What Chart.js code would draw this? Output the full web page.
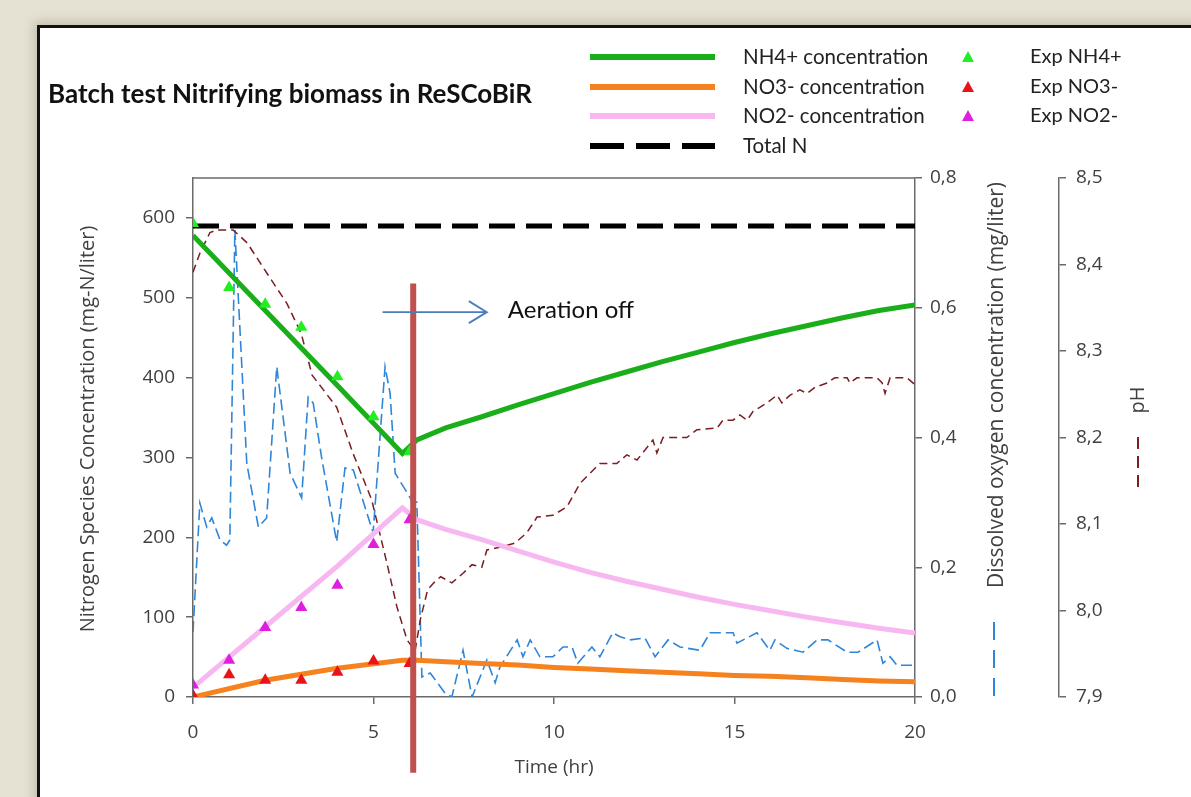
<!DOCTYPE html>
<html>
<head>
    <title>Batch test Nitrifying biomass in ReSCoBiR</title>
    <style>
        body {
            margin: 0;
            width: 1191px;
            height: 797px;
            overflow: hidden;
            background: #e5e2d3;
        }

        #frame {
            position: absolute;
            left: 37px;
            top: 25px;
            width: 1200px;
            height: 800px;
            background: #fff;
            border: 3px solid #111;
            box-shadow: -3px -3px 10px rgba(90, 80, 50, 0.25);
        }

        #chart {
            position: absolute;
            left: 0;
            top: 0;
        }
    </style>
</head>
<body>
    <div id="frame"></div>
    <canvas id="chart" width="1191" height="797"></canvas>

    <script src="https://cdn.jsdelivr.net/npm/chart.js"></script>
    <script>
        // model curves (mg-N/liter)
        const modelTime = [0, 2, 4, 5.8, 6.2, 7, 8, 9, 10, 11, 12, 13, 14, 15, 16, 17, 18, 19, 20];
        const nh4Model = [578, 484, 390, 305, 322, 337, 351, 366, 380, 394, 407, 420, 432, 444, 455, 465, 475, 484, 491];
        const no3Model = [0, 21, 36, 46, 46, 44, 42, 40, 37, 35, 33, 31, 29, 27, 26, 24, 22, 20, 19];
        const no2Model = [12, 88, 164, 237, 222, 210, 197, 183, 169, 156, 145, 135, 125, 116, 108, 100, 93, 86, 80];
        const totalNTime = [0, 20];
        const totalN = [590, 590];

        // experimental points
        const expTime = [0, 1, 2, 3, 4, 5, 6];
        const expNH4 = [593, 513, 492, 463, 401, 351, 307];
        const expNO3 = [2, 28, 21, 21, 31, 45, 42];
        const expNO2 = [15, 46, 87, 112, 140, 191, 222];

        // dissolved oxygen (mg/liter)
        const doTime = [0, 0.19, 0.38, 0.52, 0.75, 0.93, 1.02, 1.16, 1.49, 1.81, 2.04, 2.32, 2.69, 3.01, 3.19, 3.33, 3.56, 3.98,
            4.21, 4.44, 4.99, 5.32, 5.46, 5.6, 6.05, 6.2, 6.34, 6.57, 6.98, 7.17, 7.48, 7.73, 8.14, 8.37, 8.5, 8.98, 9.14, 9.34,
            9.61, 9.97, 10.25, 10.5, 10.66, 11.05, 11.27, 11.63, 11.83, 12.1, 12.52, 12.8, 13.16, 13.49, 14.04, 14.32, 14.68,
            14.96, 15.07, 15.62, 15.98, 16.12, 16.45, 16.9, 17.29, 17.59, 18.12, 18.42, 18.95, 19.11, 19.31, 19.5, 19.94, 20];
        const doValue = [0.1, 0.299, 0.262, 0.276, 0.242, 0.234, 0.242, 0.72, 0.36, 0.262, 0.276, 0.509, 0.345, 0.307, 0.462,
            0.453, 0.37, 0.239, 0.353, 0.35, 0.253, 0.509, 0.468, 0.345, 0.304, 0.3, 0.031, 0.037, 0.006, 0, 0.072, 0, 0.057,
            0.022, 0.046, 0.088, 0.062, 0.088, 0.062, 0.062, 0.077, 0.077, 0.052, 0.077, 0.062, 0.099, 0.093, 0.088, 0.091,
            0.062, 0.088, 0.077, 0.072, 0.099, 0.099, 0.099, 0.083, 0.099, 0.072, 0.088, 0.075, 0.069, 0.088, 0.088, 0.069,
            0.069, 0.088, 0.052, 0.062, 0.049, 0.049, 0.049];

        // pH
        const phTime = [0, 0.19, 0.47, 0.66, 1.11, 1.5, 1.86, 2.22, 2.6, 3.0, 3.3, 3.98, 4.43, 4.95, 5.37, 5.65, 5.93, 6.15,
            6.3, 6.5, 6.67, 6.86, 7.17, 7.48, 7.73, 8.0, 8.14, 8.5, 8.92, 9.25, 9.53, 9.97, 10.36, 10.72, 11.27, 11.74, 12.02,
            12.3, 12.74, 12.85, 13.02, 13.68, 13.96, 14.52, 14.68, 14.96, 15.15, 15.35, 15.51, 15.71, 15.9, 16.18, 16.31,
            16.54, 16.81, 17.01, 17.23, 17.56, 17.78, 18.12, 18.2, 18.39, 18.95, 19.09, 19.17, 19.31, 19.78, 20];
        const phValue = [8.391, 8.413, 8.437, 8.44, 8.44, 8.425, 8.402, 8.379, 8.355, 8.32, 8.272, 8.235, 8.182, 8.128,
            8.055, 8.004, 7.966, 7.953, 7.99, 8.024, 8.032, 8.039, 8.032, 8.043, 8.053, 8.05, 8.07, 8.073, 8.078, 8.09, 8.108,
            8.11, 8.12, 8.147, 8.17, 8.17, 8.18, 8.174, 8.197, 8.182, 8.2, 8.2, 8.209, 8.211, 8.22, 8.22, 8.226, 8.22, 8.23,
            8.235, 8.24, 8.249, 8.24, 8.249, 8.255, 8.251, 8.258, 8.263, 8.269, 8.269, 8.263, 8.269, 8.269, 8.263, 8.251,
            8.269, 8.269, 8.261];

        // aeration switched off
        const aerationOffTime = 6.1;

        const GREEN = '#1aaf1a';
        const ORANGE = '#f5821f';
        const PINK = '#f7b8f2';
        const BLUE = '#2f86d8';
        const BROWN = '#7a1e22';
        const AXIS = '#6a6a6a';
        const TEXT = '#404040';

        function points(xs, ys) {
            return xs.map((x, i) => ({ x: x, y: ys[i] }));
        }

        function commaTick(value) {
            return value.toFixed(1).replace('.', ',');
        }

        function triangle(ctx, x, y, color) {
            ctx.beginPath();
            ctx.moveTo(x, y - 6);
            ctx.lineTo(x + 6, y + 5);
            ctx.lineTo(x - 6, y + 5);
            ctx.closePath();
            ctx.fillStyle = color;
            ctx.fill();
        }

        const extras = {
            id: 'extras',
            beforeDatasetsDraw(chart) {
                const ctx = chart.ctx;
                const area = chart.chartArea;
                ctx.save();
                ctx.strokeStyle = AXIS;
                ctx.lineWidth = 1.5;
                ctx.beginPath();
                ctx.moveTo(area.left, area.top);
                ctx.lineTo(area.right, area.top);
                ctx.stroke();
                ctx.restore();
            },
            afterDatasetsDraw(chart) {
                const ctx = chart.ctx;
                const x = chart.scales.x;
                const y = chart.scales.y;
                ctx.save();
                // vertical marker
                ctx.strokeStyle = '#c0504d';
                ctx.lineWidth = 6;
                ctx.beginPath();
                ctx.moveTo(x.getPixelForValue(aerationOffTime), y.getPixelForValue(518));
                ctx.lineTo(x.getPixelForValue(aerationOffTime), y.getPixelForValue(-95));
                ctx.stroke();
                // arrow
                const ay = y.getPixelForValue(482);
                const x0 = x.getPixelForValue(5.25);
                const x1 = x.getPixelForValue(8.14);
                ctx.strokeStyle = '#4a7ebb';
                ctx.lineWidth = 1.8;
                ctx.beginPath();
                ctx.moveTo(x0, ay);
                ctx.lineTo(x1, ay);
                ctx.moveTo(x1 - 18, ay - 11);
                ctx.lineTo(x1, ay);
                ctx.lineTo(x1 - 18, ay + 11);
                ctx.stroke();
                ctx.fillStyle = '#111';
                ctx.font = '24px Lato';
                ctx.textBaseline = 'middle';
                ctx.fillText('Aeration off', x1 + 21, ay - 2);
                ctx.restore();
            },
            afterDraw(chart) {
                const ctx = chart.ctx;
                ctx.save();
                ctx.textBaseline = 'middle';

                // title
                ctx.fillStyle = '#111';
                ctx.font = 'bold 26px Lato';
                ctx.fillText('Batch test Nitrifying biomass in ReSCoBiR', 48, 95);

                // legend: model lines
                const rows = [57, 87, 116, 146];
                const keys = [
                    { label: 'NH4+ concentration', color: GREEN, dash: [] },
                    { label: 'NO3- concentration', color: ORANGE, dash: [] },
                    { label: 'NO2- concentration', color: PINK, dash: [] },
                    { label: 'Total N', color: '#000', dash: [34, 12] }
                ];
                ctx.lineWidth = 6;
                keys.forEach((k, i) => {
                    ctx.strokeStyle = k.color;
                    ctx.setLineDash(k.dash);
                    ctx.beginPath();
                    ctx.moveTo(590, rows[i]);
                    ctx.lineTo(715, rows[i]);
                    ctx.stroke();
                    ctx.fillStyle = '#222';
                    ctx.font = '20.5px Lato';
                    ctx.fillText(k.label, 743, rows[i]);
                });
                ctx.setLineDash([]);

                // legend: experimental points
                const exp = [
                    { label: 'Exp NH4+', color: '#22ee22' },
                    { label: 'Exp NO3-', color: '#e8141a' },
                    { label: 'Exp NO2-', color: '#e01ee0' }
                ];
                exp.forEach((k, i) => {
                    triangle(ctx, 968, rows[i], k.color);
                    ctx.fillStyle = '#222';
                    ctx.font = '20px Lato';
                    ctx.fillText(k.label, 1030, rows[i]);
                });

                // axis titles
                ctx.fillStyle = TEXT;
                ctx.textAlign = 'center';
                ctx.font = '19px "Open Sans"';
                ctx.fillText('Time (hr)', 554, 768);

                const vertical = (text, x, y, size) => {
                    ctx.save();
                    ctx.font = size + 'px "Open Sans"';
                    ctx.translate(x, y);
                    ctx.rotate(-Math.PI / 2);
                    ctx.fillText(text, 0, 0);
                    ctx.restore();
                };
                vertical('Nitrogen Species Concentration (mg-N/liter)', 88, 429, 20);
                vertical('Dissolved oxygen concentration (mg/liter)', 997, 385, 21);
                vertical('pH', 1138, 400, 20);

                // keys under the right axis titles
                ctx.lineWidth = 2;
                ctx.strokeStyle = BLUE;
                ctx.setLineDash([18, 10]);
                ctx.beginPath();
                ctx.moveTo(994, 622);
                ctx.lineTo(994, 698);
                ctx.stroke();
                ctx.strokeStyle = BROWN;
                ctx.setLineDash([12, 7]);
                ctx.beginPath();
                ctx.moveTo(1138, 437);
                ctx.lineTo(1138, 488);
                ctx.stroke();
                ctx.restore();
            }
        };

        const tickFont = { family: 'Open Sans', size: 19 };

        const ctx = document.getElementById('chart').getContext('2d');
        const chart = new Chart(ctx, {
            type: 'line',
            data: {
                datasets: [
                    {
                        label: 'Exp NH4+',
                        data: points(expTime, expNH4),
                        showLine: false,
                        pointStyle: 'triangle',
                        pointRadius: 7,
                        borderWidth: 0,
                        backgroundColor: '#22ee22',
                        yAxisID: 'y'
                    },
                    {
                        label: 'Exp NO3-',
                        data: points(expTime, expNO3),
                        showLine: false,
                        pointStyle: 'triangle',
                        pointRadius: 7,
                        borderWidth: 0,
                        backgroundColor: '#e8141a',
                        yAxisID: 'y'
                    },
                    {
                        label: 'Exp NO2-',
                        data: points(expTime, expNO2),
                        showLine: false,
                        pointStyle: 'triangle',
                        pointRadius: 7,
                        borderWidth: 0,
                        backgroundColor: '#e01ee0',
                        yAxisID: 'y'
                    },
                    {
                        label: 'NH4+ concentration',
                        data: points(modelTime, nh4Model),
                        borderColor: GREEN,
                        borderWidth: 5,
                        pointRadius: 0,
                        yAxisID: 'y'
                    },
                    {
                        label: 'NO3- concentration',
                        data: points(modelTime, no3Model),
                        borderColor: ORANGE,
                        borderWidth: 5,
                        pointRadius: 0,
                        yAxisID: 'y'
                    },
                    {
                        label: 'NO2- concentration',
                        data: points(modelTime, no2Model),
                        borderColor: PINK,
                        borderWidth: 5,
                        pointRadius: 0,
                        yAxisID: 'y'
                    },
                    {
                        label: 'Total N',
                        data: points(totalNTime, totalN),
                        borderColor: '#000',
                        borderWidth: 5,
                        borderDash: [26, 11],
                        pointRadius: 0,
                        yAxisID: 'y'
                    },
                    {
                        label: 'pH',
                        data: points(phTime, phValue),
                        borderColor: BROWN,
                        borderWidth: 1.5,
                        borderDash: [8, 5],
                        pointRadius: 0,
                        yAxisID: 'y2'
                    },
                    {
                        label: 'Dissolved oxygen',
                        data: points(doTime, doValue),
                        borderColor: BLUE,
                        borderWidth: 1.6,
                        borderDash: [11, 5],
                        pointRadius: 0,
                        yAxisID: 'y1'
                    }
                ]
            },
            options: {
                responsive: false,
                animation: false,
                devicePixelRatio: 1,
                layout: { padding: { top: 178, left: 0, right: 0, bottom: 0 } },
                plugins: {
                    legend: { display: false },
                    tooltip: { enabled: false }
                },
                scales: {
                    x: {
                        type: 'linear',
                        min: 0,
                        max: 20,
                        ticks: { stepSize: 5, color: TEXT, font: tickFont, padding: 17 },
                        grid: { drawOnChartArea: false, color: AXIS, lineWidth: 1.5, tickLength: 7 },
                        border: { color: AXIS, width: 1.5 },
                        afterFit: (scale) => { scale.height = 100; }
                    },
                    y: {
                        position: 'left',
                        min: 0,
                        max: 650,
                        ticks: { stepSize: 100, includeBounds: false, color: TEXT, font: tickFont, padding: 11 },
                        grid: { drawOnChartArea: false, color: AXIS, lineWidth: 1.5, tickLength: 7 },
                        border: { color: AXIS, width: 1.5 },
                        afterFit: (scale) => { scale.width = 193; }
                    },
                    y1: {
                        position: 'right',
                        weight: 1,
                        min: 0,
                        max: 0.8,
                        ticks: { stepSize: 0.2, color: TEXT, font: tickFont, padding: 8, callback: commaTick },
                        grid: { drawOnChartArea: false, color: AXIS, lineWidth: 1.5, tickLength: 7 },
                        border: { color: AXIS, width: 1.5 },
                        afterFit: (scale) => { scale.width = 144; }
                    },
                    y2: {
                        position: 'right',
                        weight: 2,
                        min: 7.9,
                        max: 8.5,
                        ticks: { stepSize: 0.1, color: TEXT, font: tickFont, padding: 10, callback: commaTick },
                        grid: { drawOnChartArea: false, color: AXIS, lineWidth: 1.5, tickLength: 7 },
                        border: { color: AXIS, width: 1.5 },
                        afterFit: (scale) => { scale.width = 132; }
                    }
                }
            },
            plugins: [extras]
        });
    </script>
</body>
</html>
